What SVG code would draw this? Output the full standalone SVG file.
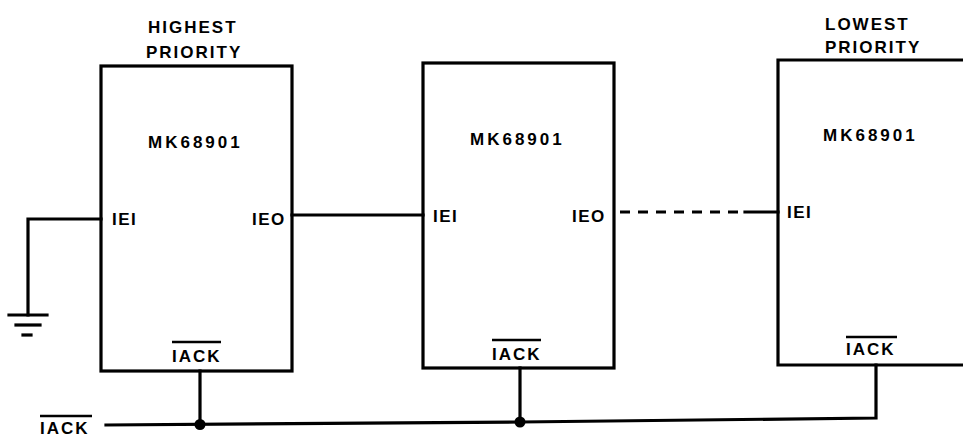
<svg xmlns="http://www.w3.org/2000/svg" width="963" height="437" viewBox="0 0 963 437">
<style>
.box{fill:none;stroke:#000;stroke-width:3.2}
.w{fill:none;stroke:#000;stroke-width:3.2;stroke-linecap:square}
.d{fill:none;stroke:#000;stroke-width:3.2;stroke-dasharray:10 8}
text{font-family:"Liberation Sans",Arial,sans-serif;font-weight:bold;fill:#000}
.t{font-size:17px;letter-spacing:2px}
.m{font-size:17px;letter-spacing:3px}
.p{font-size:17px;letter-spacing:1.5px}
.ov{stroke:#000;stroke-width:2.5}
</style>
<rect width="963" height="437" fill="#fff"/>
<g id="labels">
<text class="t" x="148" y="33">HIGHEST</text>
<text class="t" x="146" y="58">PRIORITY</text>
<text class="t" x="825" y="30">LOWEST</text>
<text class="t" x="825" y="53">PRIORITY</text>
</g>
<g id="chip1">
<rect class="box" x="101" y="66" width="191" height="305"/>
<text class="m" x="148" y="148">MK68901</text>
<text class="p" x="112" y="225">IEI</text>
<text class="p" x="252" y="225">IEO</text>
<text class="t" x="172" y="362">IACK</text>
<line class="ov" x1="172" y1="342" x2="221" y2="342"/>
</g>
<g id="chip2">
<rect class="box" x="423" y="63" width="191" height="305"/>
<text class="m" x="470" y="145">MK68901</text>
<text class="p" x="433" y="222">IEI</text>
<text class="p" x="572" y="222">IEO</text>
<text class="t" x="492" y="360">IACK</text>
<line class="ov" x1="492" y1="340" x2="541" y2="340"/>
</g>
<g id="chip3">
<path class="box" d="M965 60 H778 V365 H965"/>
<text class="m" x="823" y="141">MK68901</text>
<text class="p" x="787" y="218">IEI</text>
<text class="t" x="846" y="355">IACK</text>
<line class="ov" x1="846" y1="337" x2="897" y2="337"/>
</g>
<g id="ground">
<line class="w" x1="9" y1="315" x2="47" y2="315"/>
<line class="w" x1="16" y1="325" x2="40" y2="325"/>
<line class="w" x1="23" y1="335" x2="31" y2="335"/>
</g>
<g id="bus-label">
<text class="t" x="40" y="434">IACK</text>
<line class="ov" x1="40" y1="416" x2="92" y2="416"/>
</g>
<g id="connectors">
<polyline class="w" points="101,219 28,219 28,315"/>
<line class="w" x1="292" y1="215" x2="423" y2="215"/>
<line class="d" x1="620" y1="212" x2="740" y2="212"/>
<line class="w" x1="745" y1="212" x2="778" y2="212"/>
<line class="w" x1="200" y1="371" x2="200" y2="425"/>
<line class="w" x1="520" y1="368" x2="520" y2="422"/>
<polyline class="w" points="106,425 520,422 876,418 876,365"/>
<circle cx="200" cy="424.5" r="5.5"/>
<circle cx="520" cy="422" r="5.5"/>
</g>
</svg>
